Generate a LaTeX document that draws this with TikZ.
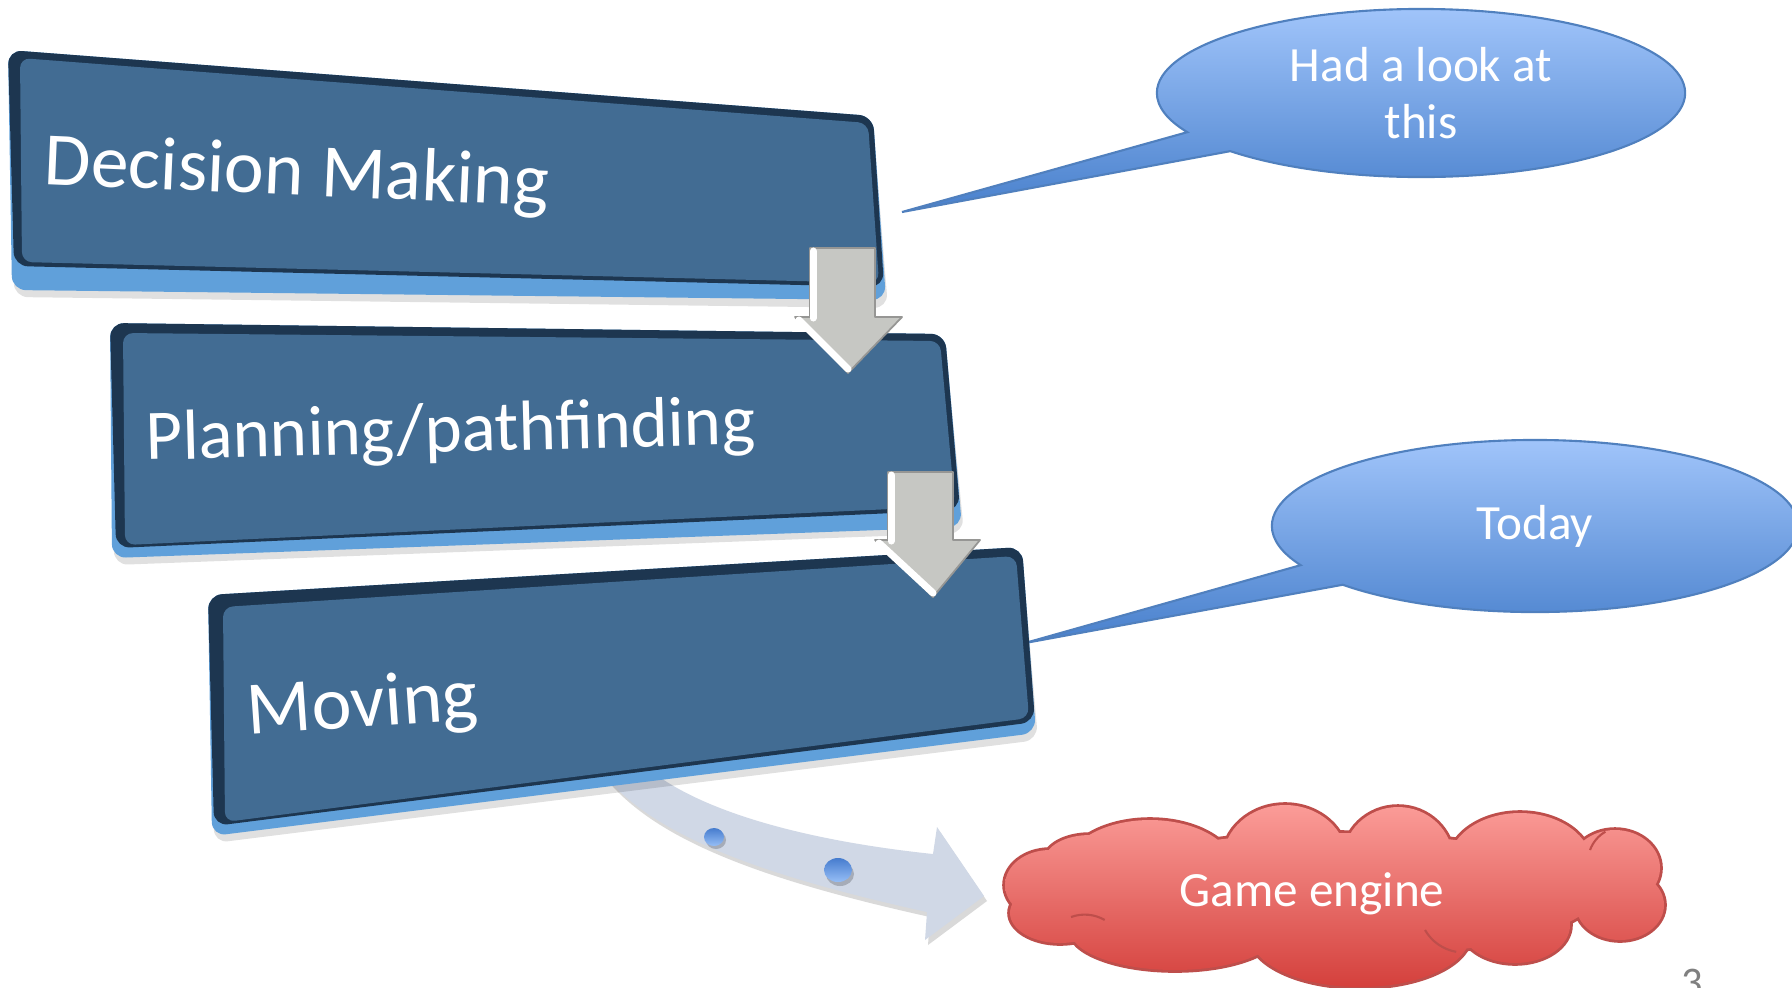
\documentclass[tikz,border=0pt]{standalone}
\usepackage{fontspec}
\setmainfont{Carlito}
\usepackage{tikz}
\usetikzlibrary{positioning,arrows.meta,shapes.callouts}

\definecolor{facecol}{RGB}{66,108,147}
\definecolor{navy}{RGB}{29,54,80}
\definecolor{rimblue}{RGB}{96,160,218}
\definecolor{bubbletop}{RGB}{160,196,250}
\definecolor{bubblebot}{RGB}{72,128,204}
\definecolor{bubbleline}{RGB}{80,128,190}
\definecolor{cloudtop}{RGB}{251,156,152}
\definecolor{cloudbot}{RGB}{212,64,60}
\definecolor{cloudline}{RGB}{190,78,75}
\definecolor{bandcol}{RGB}{208,216,230}
\definecolor{arrgrey}{RGB}{198,199,195}
\definecolor{arrline}{RGB}{150,150,148}
\definecolor{dottop}{RGB}{70,124,206}
\definecolor{dotbot}{RGB}{150,190,246}

\begin{document}
\begin{tikzpicture}[
  x=0.01cm, y=-0.01cm,
  every node/.style={text=white, inner sep=0pt},
  boxtext/.style={font=\fontsize{21.5}{26}\selectfont, anchor=base west},
  rim/.style={fill=rimblue, rounded corners=0.14cm},
  edge/.style={fill=navy, rounded corners=0.14cm},
  face/.style={fill=facecol, rounded corners=0.1cm},
  shadow/.style={fill=black, opacity=0.12, rounded corners=0.14cm},
  bubble/.style={ellipse callout, draw=bubbleline, line width=0.6pt, top color=bubbletop,
    bottom color=bubblebot, align=center, font=\fontsize{14}{16.2}\selectfont, callout pointer arc=16},
  blockarr/.style={fill=arrgrey, draw=arrline, line width=0.5pt, line join=round},
  bevel/.style={white, line width=2pt, line cap=round},
  puffs/.style={top color=cloudtop, bottom color=cloudbot},
  band/.style={fill=bandcol},
  dot/.style={top color=dottop, bottom color=dotbot}
]
\useasboundingbox[fill=white] (0,0) rectangle (1792,987);

% where the callouts point
\coordinate (dm-east) at (902,212);
\coordinate (mv-east) at (1025,643);

% curved arrow to the game engine
\fill[black, opacity=0.15] (603,775) .. controls (653,840) and (763,880) .. (930,917) -- (928,945)
  -- (987,901) -- (940,832) -- (936,859) .. controls (803,845) and (703,815) .. (653,775) -- cycle;
\fill[band] (600,770) .. controls (650,835) and (760,875) .. (927,912) -- (925,940)
  -- (984,896) -- (937,827) -- (933,854) .. controls (800,840) and (700,810) .. (650,770) -- cycle;
\fill[black, opacity=0.2] (716,840) ellipse (10 and 9);
\fill[black, opacity=0.2] (840,874) ellipse (14 and 12);
\shade[dot] (714,837) ellipse (10 and 9);
\shade[dot] (838,870) ellipse (14 and 12);

% callouts
\node[bubble, minimum width=5.28cm, minimum height=1.68cm, callout absolute pointer={(dm-east)}]
  (look) at (1421,93) {Had a look at\\this};
\node[bubble, minimum width=5.26cm, minimum height=1.72cm, callout absolute pointer={(mv-east)}]
  (today) at (1535,526) {Today};

% Decision Making
\fill[shadow] (10,56) -- (873,122) -- (888,308) -- (14,297) -- cycle;
\fill[rim] (8,50) -- (873,116) -- (886,300) -- (12,290) -- cycle;
\fill[edge] (8,50) -- (873,116) -- (884,287) -- (14,266) -- cycle;
\fill[face] (20,58) -- (868,123) -- (879,283) -- (22,262) -- cycle;
\node[boxtext, rotate=-2.5] (dm) at (43,184) {Decision Making};

% Planning/pathfinding
\fill[shadow] (112,329) -- (945,340) -- (964,533) -- (114,565) -- cycle;
\fill[rim] (110,323) -- (945,334) -- (962,527) -- (112,558) -- cycle;
\fill[edge] (110,323) -- (945,334) -- (960,510) -- (116,548) -- cycle;
\fill[face] (123,333) -- (940,341) -- (955,506) -- (125,545) -- cycle;
\node[boxtext, font=\fontsize{20.2}{24}\selectfont, rotate=1.5] (plan) at (146,460) {Planning/pathfinding};

% Moving
\fill[shadow] (210,601) -- (1022,553) -- (1038,740) -- (214,843) -- cycle;
\fill[rim] (208,595) -- (1022,547) -- (1036,733) -- (212,836) -- cycle;
\fill[edge] (208,595) -- (1022,547) -- (1035,722) -- (214,826) -- cycle;
\fill[face] (223,607) -- (1016,556) -- (1029,718) -- (225,822) -- cycle;
\node[boxtext, rotate=4] (mv) at (248,735) {Moving};

% grey arrows between the stages
\filldraw[blockarr] (810,248) -- (875,248) -- (875,317) -- (902,317) -- (848,373) -- (795,317)
  -- (810,317) -- cycle;
\draw[bevel] (813,251) -- (813,318);
\draw[bevel] (799,320) -- (848,369);
\filldraw[blockarr] (888,472) -- (953,472) -- (953,540) -- (980,540) -- (933,597) -- (875,540)
  -- (888,540) -- cycle;
\draw[bevel] (891,475) -- (891,541);
\draw[bevel] (879,543) -- (933,593);

% game engine cloud
\def\puffpath{(1150,870) ellipse (85 and 50) (1285,860) ellipse (62 and 55)
  (1398,860) ellipse (55 and 53) (1520,865) ellipse (72 and 52) (1615,868) ellipse (45 and 38)
  (1620,905) ellipse (44 and 35) (1515,925) ellipse (55 and 38) (1360,935) ellipse (110 and 52)
  (1175,930) ellipse (105 and 40) (1060,913) ellipse (50 and 30) (1050,885) ellipse (45 and 35)
  (1090,860) ellipse (45 and 25) (1335,895) ellipse (260 and 62)}
\draw[cloudline, line width=1.6pt] \puffpath;
\shade[puffs] \puffpath;
\draw[cloudline, line width=0.6pt] (1071,917) arc (250:300:40);
\draw[cloudline, line width=0.6pt] (1425,930) arc (150:100:45);
\draw[cloudline, line width=0.6pt] (1590,850) arc (200:240:35);
\node[font=\fontsize{14}{17}\selectfont] (eng) at (1312,894) {Game engine};

\node[text=gray, font=\fontsize{12}{14}\selectfont, anchor=base] (page) at (1692,996) {3};
\end{tikzpicture}
\end{document}
